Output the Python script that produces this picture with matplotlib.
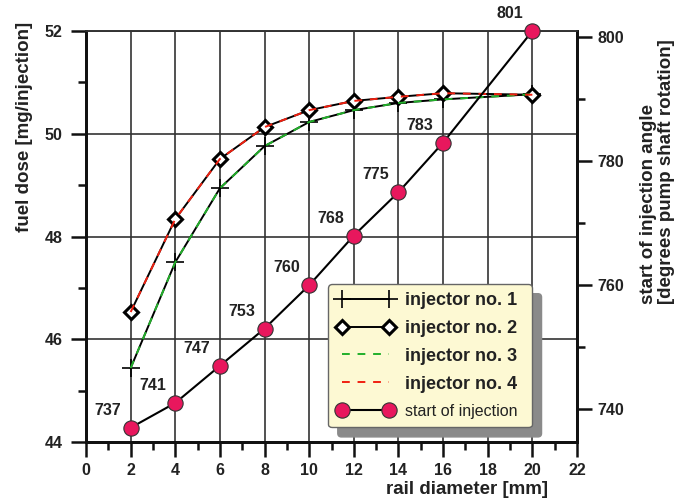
import matplotlib.pyplot as plt
import numpy as np

plt.rcParams['font.family'] = ['Liberation Sans', 'DejaVu Sans']

diameter = [2, 4, 6, 8, 10, 12, 14, 16, 20]
injector_1 = [45.44, 47.50, 48.94, 49.76, 50.23, 50.46, 50.60, 50.67, 50.77]
injector_2 = [46.53, 48.34, 49.51, 50.13, 50.46, 50.64, 50.72, 50.79, 50.76]
injector_3 = [45.44, 47.50, 48.94, 49.76, 50.23, 50.46, 50.60, 50.67, 50.77]
injector_4 = [46.53, 48.34, 49.51, 50.13, 50.46, 50.64, 50.72, 50.79, 50.76]
start_angle = [737, 741, 747, 753, 760, 768, 775, 783, 801]

txt = '#222222'
pink = '#E8175D'

fig = plt.figure(figsize=(6.91, 5.01), dpi=100)
ax = fig.add_axes([0.1245, 0.1178, 0.7105, 0.8202])
ax2 = ax.twinx()

l1, = ax.plot(diameter, injector_1, color='black', lw=1.4, marker='+', ms=13, mew=1.2,
              label='injector no. 1', zorder=3)
l2, = ax.plot(diameter, injector_2, color='black', lw=1.4, marker='D', ms=7, mew=2.2,
              mfc='white', mec='black', label='injector no. 2', zorder=3)
l3, = ax.plot(diameter, injector_3, color='#22B02A', lw=1.4, ls=(0, (4, 4)),
              label='injector no. 3', zorder=4)
l4, = ax.plot(diameter, injector_4, color='#F02010', lw=1.4, ls=(0, (4, 4)),
              label='injector no. 4', zorder=4)

l5, = ax2.plot(diameter, start_angle, color='black', lw=1.5, marker='o', ms=11,
               mfc=pink, mec='#333333', mew=0.8, label='start of injection', zorder=5,
               clip_on=False)
for xd, yd in zip(diameter, start_angle):
    ax2.annotate(str(yd), (xd, yd), xytext=(-16.5, 12.5), textcoords='offset points',
                 ha='center', va='center', fontsize=11.5, fontweight='bold', color=txt)

ax.set_xlim(0, 22)
ax.set_ylim(44, 52)
ax2.set_ylim(734.7, 801)

ax.set_xticks(np.arange(0, 23, 2))
ax.set_xticks(np.arange(0, 23, 1), minor=True)
ax.set_yticks(np.arange(44, 53, 2))
ax.set_yticks(np.arange(44, 53, 1), minor=True)
ax2.set_yticks(np.arange(740, 801, 20))
ax2.set_yticks(np.arange(740, 801, 10), minor=True)

ax.grid(True, which='major', color='#333333', lw=1.2)
ax.set_axisbelow(True)

for a in (ax, ax2):
    for s in ('left', 'bottom', 'right'):
        a.spines[s].set_linewidth(2)
        a.spines[s].set_color('#111111')
    a.spines['top'].set_linewidth(1.2)
    a.spines['top'].set_color('#333333')

ax.tick_params(which='major', direction='out', length=11, width=1.8, color='#111111',
               labelsize=11.5, labelcolor=txt, pad=4)
ax.tick_params(which='minor', direction='out', length=6, width=1.8, color='#111111')
ax.tick_params(axis='y', which='major', pad=6)
ax2.tick_params(which='major', direction='out', length=11, width=1.8, color='#111111',
                labelsize=11.5, labelcolor=txt, pad=4)
ax2.tick_params(which='minor', direction='out', length=6, width=1.8, color='#111111')
for lab in ax.get_xticklabels() + ax.get_yticklabels() + ax2.get_yticklabels():
    lab.set_fontweight('bold')

fig.text(0.035, 0.747, 'fuel dose [mg/injection]', rotation=90, ha='center', va='center',
         fontsize=13.5, fontweight='bold', color=txt)
fig.text(0.952, 0.657, 'start of injection angle\n[degrees pump shaft rotation]',
         rotation=90, ha='center', va='center', multialignment='left',
         fontsize=13.5, fontweight='bold', color=txt, linespacing=1.1)
fig.text(0.676, 0.022, 'rail diameter [mm]', ha='center', va='center',
         fontsize=13.5, fontweight='bold', color=txt)

leg = ax2.legend(handles=[l1, l2, l3, l4, l5], loc='lower left',
                 bbox_to_anchor=(0.493, 0.036, 0.415, 0.346), mode='expand',
                 fancybox=True, facecolor='#FDF9D3', edgecolor='#666666', framealpha=1,
                 shadow={'color': '#8a8a8a', 'alpha': 1, 'ox': 7, 'oy': -7},
                 numpoints=2, handlelength=3.2, handletextpad=0.6, labelspacing=0.6,
                 borderpad=0.45, borderaxespad=0, prop={'weight': 'bold', 'size': 13})
leg.get_frame().set_linewidth(1)
for t in leg.get_texts():
    t.set_color(txt)
leg.get_texts()[-1].set_fontweight('normal')
leg.get_texts()[-1].set_fontsize(11.5)
leg.set_zorder(10)

fig.savefig('out.png', dpi=100)
